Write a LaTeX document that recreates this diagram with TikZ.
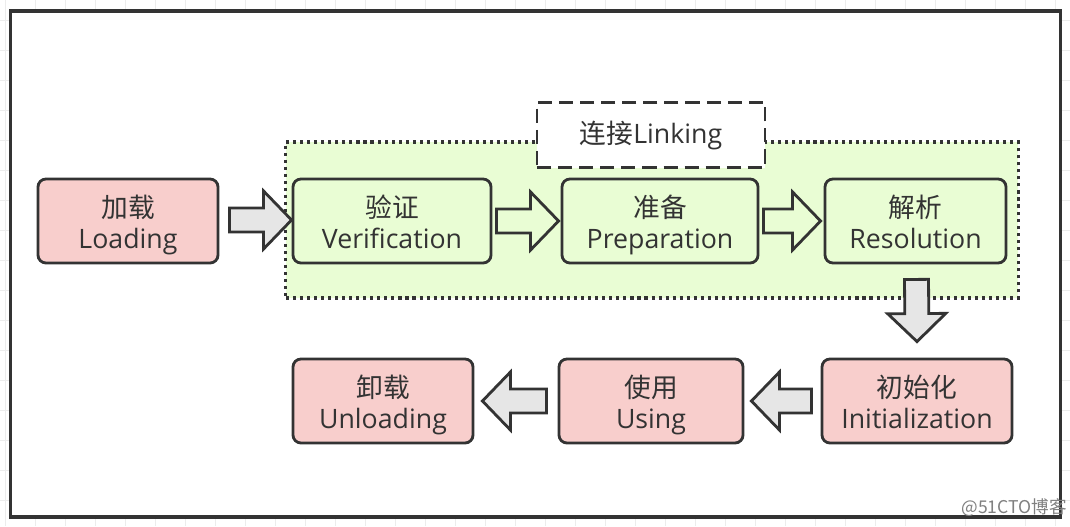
\documentclass[tikz,border=0pt]{standalone}
\usepackage{fontspec}
\setmainfont{Open Sans}
\newfontfamily\cjk{Noto Sans CJK SC}
\usetikzlibrary{calc}
\definecolor{jvmpink}{RGB}{248, 206, 204}
\definecolor{jvmgreen}{RGB}{233, 253, 212}
\definecolor{jvmgray}{RGB}{230, 230, 230}
\definecolor{jvmline}{RGB}{51, 51, 51}
\definecolor{jvmgrid}{RGB}{236, 236, 236}

% block arrow: style, tail, tip
\newcommand{\fatarrow}[3]{%
  \coordinate (ta) at #2;
  \coordinate (tp) at #3;
  \coordinate (hb) at ($(tp)!0.7cm!(ta)$);
  \draw[#1] ($(ta)!0.3cm!90:(tp)$) -- ($(hb)!0.3cm!90:(tp)$) -- ($(hb)!0.725cm!90:(tp)$)
    -- (tp) -- ($(hb)!0.725cm!-90:(tp)$) -- ($(hb)!0.3cm!-90:(tp)$) -- ($(ta)!0.3cm!-90:(tp)$) -- cycle;
}
% two-line stage label
\newcommand{\stagename}[2]{\rule{0pt}{21pt}{\cjk #1}\\#2\vphantom{g}}

\begin{document}
\begin{tikzpicture}[x=0.025cm, y=-0.025cm,
    stage/.style={draw=jvmline, line width=2pt, rounded corners=0.2cm, align=center,
      minimum height=2.1cm, text=jvmline, font=\fontsize{19}{22}\selectfont},
    pinkstage/.style={stage, fill=jvmpink},
    greenstage/.style={stage, fill=jvmgreen},
    grayarrow/.style={draw=jvmline, line width=2pt, fill=jvmgray},
    openarrow/.style={draw=jvmline, line width=2pt},
    linkarea/.style={draw=jvmline, line width=2.2pt, fill=jvmgreen, dash pattern=on 2.2pt off 2.8pt},
    linklabel/.style={draw=jvmline, line width=2pt, fill=white, dash pattern=on 10pt off 5pt,
      text=jvmline, font=\fontsize{19}{22}\selectfont}]
\useasboundingbox (0,0) rectangle (1070,526);
% background grid and frame
\foreach \x in {5,35,...,1065} \draw[jvmgrid] (\x,0) -- (\x,526);
\foreach \y in {20,50,...,500} \draw[jvmgrid] (0,\y) -- (1070,\y);
\draw[jvmline, line width=2.2pt, fill=white] (10.5,11) rectangle (1060.5,517);

% linking phase
\node[linkarea, minimum width=18.3cm, minimum height=3.9cm] (linking) at (652,220) {};
\node[linklabel, minimum width=5.7cm, minimum height=1.625cm] (linkname) at (651,135) {{\cjk 连接}Linking\vphantom{g}};

\node[pinkstage, minimum width=4.5cm] (load) at (128,221) {\stagename{加载}{Loading}};
\node[greenstage, minimum width=4.95cm] (verif) at (392,221) {\stagename{验证}{Verification}};
\node[greenstage, minimum width=4.9cm] (prep) at (660,221) {\stagename{准备}{Preparation}};
\node[greenstage, minimum width=4.525cm] (resol) at (915.5,221) {\stagename{解析}{Resolution}};
\node[pinkstage, minimum width=4.75cm] (init) at (917,401) {\stagename{初始化}{Initialization}};
\node[pinkstage, minimum width=4.6cm] (use) at (651,401) {\stagename{使用}{Using}};
\node[pinkstage, minimum width=4.5cm] (unload) at (383,401) {\stagename{卸载}{Unloading}};

\fatarrow{grayarrow}{($(load.east)+(10,-1)$)}{($(verif.west)+(0,-1)$)}
\fatarrow{openarrow}{($(verif.east)+(4,0)$)}{($(prep.west)+(-2,0)$)}
\fatarrow{openarrow}{($(prep.east)+(4,0)$)}{($(resol.west)+(-3,0)$)}
\fatarrow{grayarrow}{($(resol.south)+(1,15)$)}{($(init.north)+(0,-16)$)}
\fatarrow{grayarrow}{($(init.west)+(-9,0)$)}{($(use.east)+(7,0)$)}
\fatarrow{grayarrow}{($(use.west)+(-11,0)$)}{($(unload.east)+(8,0)$)}

\node[text=gray, font=\cjk\fontsize{12.5}{14}\selectfont] (mark) at (1014,508) {@51CTO博客};
\end{tikzpicture}
\end{document}
